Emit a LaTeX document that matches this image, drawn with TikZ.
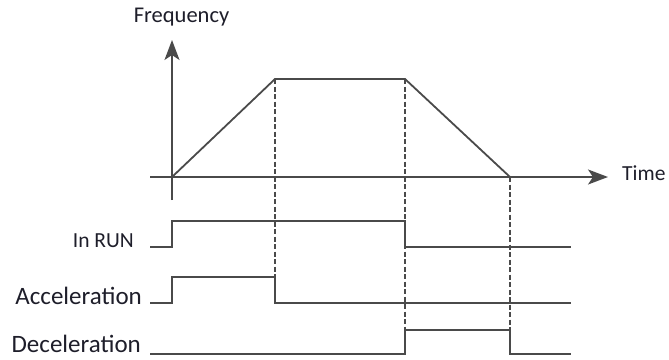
\documentclass[tikz,border=0pt]{standalone}
\usepackage{fontspec}
\setmainfont{Carlito}
\usetikzlibrary{arrows.meta}
\definecolor{linegray}{HTML}{4A4A4A}
\definecolor{txt}{HTML}{1E1E2A}
\begin{document}
\begin{tikzpicture}[x=1pt,y=-1pt,
  sig/.style={draw=linegray,line width=1.8pt,line join=miter},
  axis/.style={draw=linegray,line width=1.8pt,-{Stealth[length=20pt,width=15pt,inset=5pt]}},
  guide/.style={draw=linegray,line width=1.1pt,dash pattern=on 5pt off 2.5pt},
  lbl/.style={text=txt,inner sep=0pt,font=\fontsize{21.5}{24}\selectfont},
  biglbl/.style={lbl,font=\fontsize{25}{30}\selectfont}]
\useasboundingbox (0,0) rectangle (669,359);
% key points
\coordinate (O) at (172,177);
\coordinate (A) at (275,79);
\coordinate (B) at (405,79);
\coordinate (C) at (510,177);
\coordinate (ybot) at (172,200);
\coordinate (ytop) at (172,40);
\coordinate (xl) at (150,177);
\coordinate (xr) at (608,177);
% labels
\node[lbl,font=\fontsize{22.5}{26}\selectfont] (freq) at (181.5,17) {Frequency};
\node[lbl,anchor=west] (time) at (622,173) {Time};
\node[lbl,anchor=east] (run) at (134,241) {In RUN};
\node[biglbl,anchor=east] (acc) at (142,296) {Acceleration};
\node[biglbl,anchor=east] (dec) at (141,344) {Deceleration};
% dashed guides
\draw[guide] (A) -- (275,303);
\draw[guide] (B) -- (405,354);
\draw[guide] (C) -- (510,354);
% axes
\draw[axis] (ybot) -- (ytop);
\draw[axis] (xl) -- (xr);
% frequency profile
\draw[sig] (O) -- (A) -- (B) -- (C);
% In RUN
\draw[sig] (150,247) -- (172,247) -- (172,221) -- (405,221) -- (405,247) -- (571,247);
% Acceleration
\draw[sig] (150,303) -- (172,303) -- (172,277) -- (275,277) -- (275,303) -- (571,303);
% Deceleration
\draw[sig] (150,354) -- (405,354) -- (405,330) -- (510,330) -- (510,354) -- (571,354);
\end{tikzpicture}
\end{document}
